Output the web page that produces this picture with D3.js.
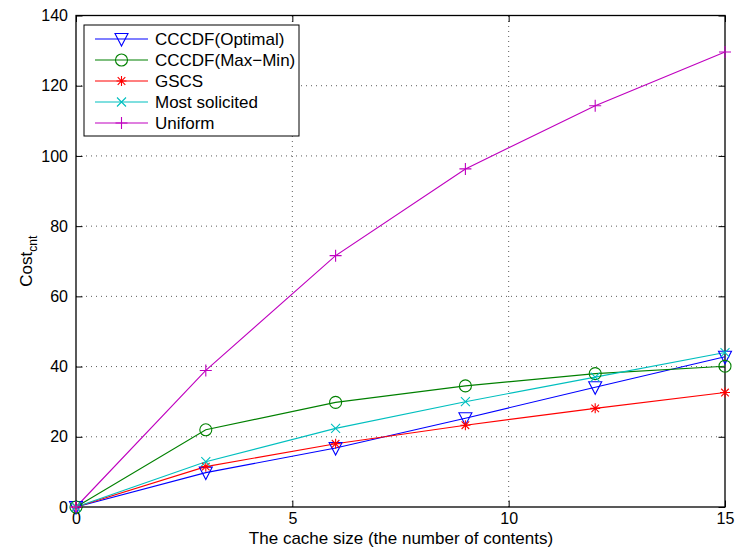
<!DOCTYPE html>
<html><head><meta charset="utf-8">
<script src="https://cdn.jsdelivr.net/npm/d3@7"></script>
<style>body{margin:0;background:#fff}svg{display:block;font-family:"Liberation Sans",Arial,sans-serif}</style>
</head><body><svg id="chart" width="736" height="552"></svg>
<script>
// Cache cost vs. cache size for five placement schemes
const cacheSizes = [0, 3, 6, 9, 12, 15];
const optimal    = [0, 9.8, 16.8, 25.3, 34.1, 42.8];
const maxMin     = [0, 22.0, 29.8, 34.5, 38.0, 40.1];
const gscs       = [0, 11.5, 18.0, 23.3, 28.1, 32.6];
const mostSolic  = [0, 12.9, 22.4, 30.0, 37.0, 44.0];
const uniform    = [0, 38.9, 71.6, 96.3, 114.3, 129.6];
const xTicks = [0, 5, 10, 15];
const yTicks = [0, 20, 40, 60, 80, 100, 120, 140];

const series = [
  {name: "CCCDF(Optimal)",   values: optimal,   color: "#0000ff", marker: "tri"},
  {name: "CCCDF(Max\u2212Min)", values: maxMin,    color: "#008000", marker: "circle"},
  {name: "GSCS",             values: gscs,      color: "#ff0000", marker: "star"},
  {name: "Most solicited",   values: mostSolic, color: "#00bfbf", marker: "x"},
  {name: "Uniform",          values: uniform,   color: "#bf00bf", marker: "plus"}
];

const svg = d3.select("#chart");
const L = 76, R = 725, T = 15.5, B = 507;
const x = d3.scaleLinear().domain([0, 15]).range([L, R]);
const y = d3.scaleLinear().domain([0, 140]).range([B, T]);

// dotted grid
const grid = svg.append("g").attr("stroke", "#333").attr("stroke-width", 0.8)
  .attr("stroke-dasharray", "1,4");
xTicks.slice(1, -1).forEach(v => grid.append("line")
  .attr("x1", x(v)).attr("x2", x(v)).attr("y1", B).attr("y2", T));
yTicks.slice(1, -1).forEach(v => grid.append("line")
  .attr("x1", L).attr("x2", R).attr("y1", y(v)).attr("y2", y(v)));

// axes with inward ticks on all four sides
const tickLen = 6.5;
svg.append("g").attr("transform", `translate(0,${B})`)
  .call(d3.axisBottom(x).tickValues(xTicks).tickSizeInner(-tickLen).tickSizeOuter(0).tickPadding(6))
  .call(g => g.select(".domain").remove());
svg.append("g").attr("transform", `translate(${L},0)`)
  .call(d3.axisLeft(y).tickValues(yTicks).tickSizeInner(-tickLen).tickSizeOuter(0).tickPadding(8))
  .call(g => g.select(".domain").remove());
svg.append("g").attr("transform", `translate(0,${T})`)
  .call(d3.axisTop(x).tickValues(xTicks).tickSizeInner(-tickLen).tickSizeOuter(0).tickFormat(""))
  .call(g => g.select(".domain").remove());
svg.append("g").attr("transform", `translate(${R},0)`)
  .call(d3.axisRight(y).tickValues(yTicks).tickSizeInner(-tickLen).tickSizeOuter(0).tickFormat(""))
  .call(g => g.select(".domain").remove());
svg.selectAll(".tick line").attr("stroke", "#000");
svg.selectAll(".tick text").attr("font-size", 16).attr("fill", "#000")
  .attr("font-family", "Liberation Sans, Arial, sans-serif");

svg.append("rect").attr("x", L).attr("y", T).attr("width", R - L).attr("height", B - T)
  .attr("fill", "none").attr("stroke", "#000").attr("stroke-width", 1.3);

function drawMarker(g, type, cx, cy, color) {
  const s = g.append("g").attr("transform", `translate(${cx},${cy})`)
    .attr("fill", "none").attr("stroke", color).attr("stroke-width", 1.1);
  if (type === "tri") s.append("path").attr("d", "M-6.5,-5.5L6.5,-5.5L0,7Z");
  else if (type === "circle") s.append("circle").attr("r", 6);
  else if (type === "plus") s.append("path").attr("d", "M-6,0H6M0,-6V6");
  else if (type === "x") s.append("path").attr("d", "M-4.5,-4.5L4.5,4.5M-4.5,4.5L4.5,-4.5");
  else if (type === "star") s.append("path").attr("d", "M-5,0H5M0,-5V5M-3.8,-3.8L3.8,3.8M-3.8,3.8L3.8,-3.8");
}

const line = d3.line().x((d, i) => x(cacheSizes[i])).y(d => y(d));
const plot = svg.append("g");
series.forEach(s => {
  plot.append("path").datum(s.values).attr("d", line)
    .attr("fill", "none").attr("stroke", s.color).attr("stroke-width", 1.1);
});
series.forEach(s => {
  s.values.forEach((v, i) => drawMarker(plot, s.marker, x(cacheSizes[i]), y(v), s.color));
});

// legend
const lg = svg.append("g");
lg.append("rect").attr("x", 84).attr("y", 25).attr("width", 215).attr("height", 111)
  .attr("fill", "#fff").attr("stroke", "#000").attr("stroke-width", 1);
series.forEach((s, i) => {
  const ly = 39 + i * 21;
  lg.append("line").attr("x1", 95).attr("x2", 148).attr("y1", ly).attr("y2", ly)
    .attr("stroke", s.color).attr("stroke-width", 1.1);
  drawMarker(lg, s.marker, 121.5, ly, s.color);
  lg.append("text").attr("x", 155).attr("y", ly + 6).attr("font-size", 17)
    .attr("fill", "#000").text(s.name);
});

// axis titles
svg.append("text").attr("x", (L + R) / 2 + 0.5).attr("y", 544).attr("text-anchor", "middle")
  .attr("font-size", 17).attr("fill", "#000").text("The cache size (the number of contents)");
const yl = svg.append("text").attr("transform", `translate(32,${(T + B) / 2}) rotate(-90)`)
  .attr("text-anchor", "middle").attr("font-size", 17).attr("fill", "#000");
yl.append("tspan").text("Cost");
yl.append("tspan").attr("font-size", 12).attr("dy", 5).text("cnt");
</script></body></html>
